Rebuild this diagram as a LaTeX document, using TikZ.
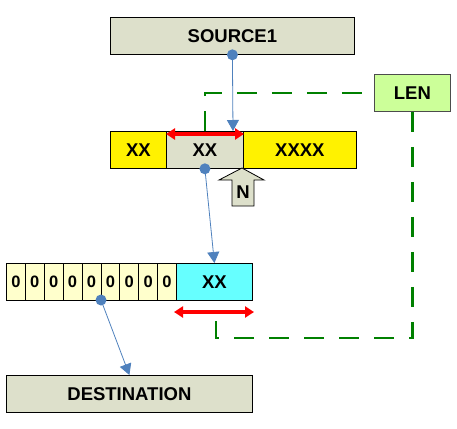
\documentclass[tikz,border=0pt]{standalone}
\usepackage{fontspec}
\setmainfont{Liberation Sans}
\usetikzlibrary{arrows.meta}
\definecolor{boxgray}{RGB}{221,224,203}
\definecolor{zerofill}{RGB}{255,255,204}
\definecolor{cyanfill}{RGB}{102,255,255}
\definecolor{lenfill}{RGB}{204,255,153}
\definecolor{linkblue}{RGB}{79,129,189}
\definecolor{lengreen}{RGB}{0,128,0}

\begin{document}
\begin{tikzpicture}[x=1pt,y=-1pt,
    cell/.style={draw=black,line width=0.8pt,inner sep=0pt,anchor=north west,
      minimum height=37pt,font=\fontsize{18.5}{20}\selectfont\bfseries},
    link/.style={draw=linkblue,line width=0.8pt,-{Triangle[width=12pt,length=11pt]}},
    span/.style={draw=red,line width=3.5pt,
      {Triangle[width=11pt,length=9pt]}-{Triangle[width=11pt,length=9pt]}},
    lenline/.style={draw=lengreen,line width=2.8pt,dash pattern=on 20pt off 15pt}]
    \useasboundingbox (0,0) rectangle (457,428);
    % boxes
    \node[cell,fill=boxgray,minimum width=244pt] (src) at (110,17) {SOURCE1};
    \node[cell,fill=lenfill,minimum width=76pt,draw=black!70] (len) at (374,74) {LEN};
    \node[cell,fill=yellow,minimum width=56pt] (xa) at (110,131) {XX};
    \node[cell,fill=boxgray,minimum width=77pt] (gx) at (166,131) {XX};
    \node[cell,fill=yellow,minimum width=113pt] (xb) at (243,131) {XXXX};
    \foreach \i in {0,...,8}
      \node[cell,fill=zerofill,minimum width=18.9pt,font=\fontsize{16.5}{18}\selectfont\bfseries]
        (z\i) at ({6+\i*18.9},263) {0};
    \node[cell,fill=cyanfill,minimum width=76pt] (cy) at (176,263) {XX};
    \node[cell,fill=boxgray,minimum width=246pt] (dst) at (6,375) {DESTINATION};
    % pointer N
    \draw[fill=boxgray,line width=0.8pt] (242,168) -- (264,180) -- (254,180) -- (254,206)
      -- (232,206) -- (232,180) -- (219,180) -- cycle;
    \node[font=\fontsize{18.5}{20}\selectfont\bfseries] (n) at (243,192) {N};
    % length lines
    \coordinate (g2) at (216,317);
    \draw[lenline] (gx.north) |- (len.west);
    \draw[lenline] (len.south) |- (216,338) -- (g2);
    \draw[span] (166,134) -- (244,134);
    \draw[span] (174,312) -- (254,312);
    % links
    \coordinate (t1) at (233,131);
    \coordinate (d3) at (101,300);
    \draw[link] (src.south) -- (t1);
    \draw[link] (gx.south) -- (cy.north);
    \draw[link] (d3) -- (dst.north);
    \fill[linkblue] (src.south) circle (5.5pt);
    \fill[linkblue] (gx.south) circle (5.5pt);
    \fill[linkblue] (d3) circle (5.5pt);
\end{tikzpicture}
\end{document}
